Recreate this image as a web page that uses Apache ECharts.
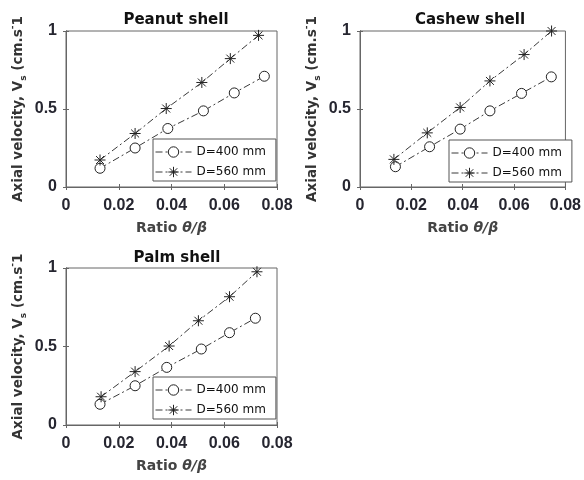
<!DOCTYPE html>
<html>
<head>
<meta charset="utf-8">
<script src="https://cdn.jsdelivr.net/npm/echarts@6/dist/echarts.min.js"></script>
<style>
html,body{margin:0;padding:0;background:#fff;}
#chart{width:584px;height:480px;}
</style>
</head>
<body>
<div id="chart"></div>
<script>
// ---- data ----
const panelTitles = ['Peanut shell', 'Cashew shell', 'Palm shell'];
const seriesNames = ['D=400 mm', 'D=560 mm'];
const xTickValues = [0, 0.02, 0.04, 0.06, 0.08];
const yTickValues = [0, 0.5, 1];

const peanut400X = [0.0129, 0.0262, 0.0386, 0.0521, 0.0638, 0.0752];
const peanut400Y = [0.120, 0.250, 0.375, 0.488, 0.603, 0.710];
const peanut560X = [0.0129, 0.0262, 0.0380, 0.0515, 0.0623, 0.0730];
const peanut560Y = [0.173, 0.343, 0.503, 0.670, 0.823, 0.972];

const cashew400X = [0.0138, 0.0271, 0.0390, 0.0506, 0.0629, 0.0745];
const cashew400Y = [0.130, 0.258, 0.371, 0.488, 0.600, 0.706];
const cashew560X = [0.0132, 0.0262, 0.0390, 0.0506, 0.0639, 0.0746];
const cashew560Y = [0.177, 0.347, 0.510, 0.680, 0.849, 1.000];

const palm400X = [0.0129, 0.0262, 0.0382, 0.0513, 0.0620, 0.0718];
const palm400Y = [0.132, 0.250, 0.367, 0.484, 0.588, 0.680];
const palm560X = [0.0133, 0.0262, 0.0391, 0.0502, 0.0620, 0.0724];
const palm560Y = [0.180, 0.340, 0.503, 0.664, 0.817, 0.976];

// ---- build ----
const zip = (xs, ys) => xs.map((x, i) => [x, ys[i]]);
const panels = [
  { s400: zip(peanut400X, peanut400Y), s560: zip(peanut560X, peanut560Y) },
  { s400: zip(cashew400X, cashew400Y), s560: zip(cashew560X, cashew560Y) },
  { s400: zip(palm400X, palm400Y), s560: zip(palm560X, palm560Y) }
];

const grids = [
  { left: 66, top: 31, width: 211, height: 156 },
  { left: 360, top: 31, width: 212, height: 156 },
  { left: 66, top: 268, width: 211, height: 157 }
];
const titlePos = [
  { x: 171, y: 8 },
  { x: 465, y: 8 },
  { x: 172, y: 246 }
];
const legendPos = [
  { left: 153, top: 139 },
  { left: 449, top: 140 },
  { left: 153, top: 377 }
];

const frameColor = '#666';
const labelFont = 'Arial, "Liberation Sans", sans-serif';
const textFont = '"DejaVu Sans", sans-serif';
const starPath = 'path://M0,-5L0,5M-5,0L5,0M-3.6,-3.6L3.6,3.6M-3.6,3.6L3.6,-3.6';
const dashDot = [7, 3, 2, 3];
const lineColor = '#3a3a3a';
const markStyle = { color: '#fff', borderColor: '#222', borderWidth: 1 };

const option = {
  backgroundColor: '#fff',
  animation: false,
  title: panelTitles.map((t, i) => ({
    text: t,
    left: titlePos[i].x,
    top: titlePos[i].y,
    textAlign: 'center',
    textStyle: { fontFamily: textFont, fontWeight: 'bold', fontSize: 15, color: '#111' }
  })),
  grid: grids.map(g => Object.assign({ show: true, borderColor: frameColor, borderWidth: 1, backgroundColor: '#fff' }, g)),
  legend: legendPos.map(p => ({
    left: p.left, top: p.top, orient: 'vertical',
    itemWidth: 36, itemHeight: 13, itemGap: 8,
    padding: [7, 10, 3, 2],
    borderColor: '#555', borderWidth: 1, backgroundColor: '#fff',
    itemStyle: { color: '#fff', borderColor: '#222', borderWidth: 1 },
    lineStyle: { color: lineColor, width: 1, type: dashDot },
    textStyle: { fontFamily: textFont, fontSize: 12, color: '#111' },
    data: seriesNames
  })),
  xAxis: [],
  yAxis: [],
  series: []
};

grids.forEach((g, i) => {
  option.xAxis.push({
    gridIndex: i, type: 'value', min: xTickValues[0], max: xTickValues[xTickValues.length - 1],
    interval: xTickValues[1] - xTickValues[0],
    axisLine: { show: true, lineStyle: { color: frameColor, width: 1 } },
    axisTick: { inside: true, length: 3, lineStyle: { color: frameColor } },
    splitLine: { show: false },
    axisLabel: { margin: 11, fontFamily: labelFont, fontSize: 16, fontWeight: 'bold', color: '#262630' },
    name: '{b|Ratio }{i|θ/β}',
    nameLocation: 'middle', nameGap: 34,
    nameTextStyle: {
      rich: {
        b: { fontFamily: textFont, fontSize: 14, fontWeight: 'bold', color: '#444' },
        i: { fontFamily: textFont, fontSize: 14, fontWeight: 'bold', fontStyle: 'italic', color: '#444' }
      }
    }
  });
  option.xAxis.push({
    gridIndex: i, type: 'value', position: 'top', min: xTickValues[0], max: xTickValues[xTickValues.length - 1],
    interval: xTickValues[1] - xTickValues[0],
    axisLine: { show: true, lineStyle: { color: frameColor, width: 1 } },
    axisTick: { inside: true, length: 3, lineStyle: { color: frameColor } },
    splitLine: { show: false }, axisLabel: { show: false }
  });
  option.yAxis.push({
    gridIndex: i, type: 'value', min: yTickValues[0], max: yTickValues[yTickValues.length - 1],
    interval: yTickValues[1] - yTickValues[0],
    axisLine: { show: true, lineStyle: { color: frameColor, width: 1 } },
    axisTick: { inside: true, length: 3, lineStyle: { color: frameColor } },
    splitLine: { show: false },
    axisLabel: { margin: 9, fontFamily: labelFont, fontSize: 16, fontWeight: 'bold', color: '#262630' },
    name: '{b|Axial velocity, V}{sub|s}{b| (cm.s}{sup|-}{b|1}',
    nameLocation: 'middle', nameGap: 38, nameRotate: 90,
    nameTextStyle: {
      rich: {
        b: { fontFamily: textFont, fontSize: 13.5, fontWeight: 'bold', color: '#333', lineHeight: 20 },
        sub: { fontFamily: textFont, fontSize: 9, fontWeight: 'bold', color: '#333', verticalAlign: 'bottom' },
        sup: { fontFamily: textFont, fontSize: 9, fontWeight: 'bold', color: '#333', verticalAlign: 'top' }
      }
    }
  });
  option.yAxis.push({
    gridIndex: i, type: 'value', position: 'right', min: yTickValues[0], max: yTickValues[yTickValues.length - 1],
    interval: yTickValues[1] - yTickValues[0],
    axisLine: { show: true, lineStyle: { color: frameColor, width: 1 } },
    axisTick: { inside: true, length: 3, lineStyle: { color: frameColor } },
    splitLine: { show: false }, axisLabel: { show: false }
  });

  const lineStyle = { color: lineColor, width: 1, type: dashDot };
  option.series.push({
    name: seriesNames[0], type: 'line', xAxisIndex: 2 * i, yAxisIndex: 2 * i,
    data: panels[i].s400, symbol: 'circle', symbolSize: 10, showAllSymbol: true,
    lineStyle: lineStyle, itemStyle: markStyle,
    emphasis: { disabled: true }, z: 3
  });
  option.series.push({
    name: seriesNames[1], type: 'line', xAxisIndex: 2 * i, yAxisIndex: 2 * i,
    data: panels[i].s560, symbol: starPath, symbolSize: 11, showAllSymbol: true,
    lineStyle: lineStyle, itemStyle: markStyle,
    emphasis: { disabled: true }, z: 3
  });
});

const chart = echarts.init(document.getElementById('chart'), null, { renderer: 'canvas' });
chart.setOption(option);
</script>
</body>
</html>
